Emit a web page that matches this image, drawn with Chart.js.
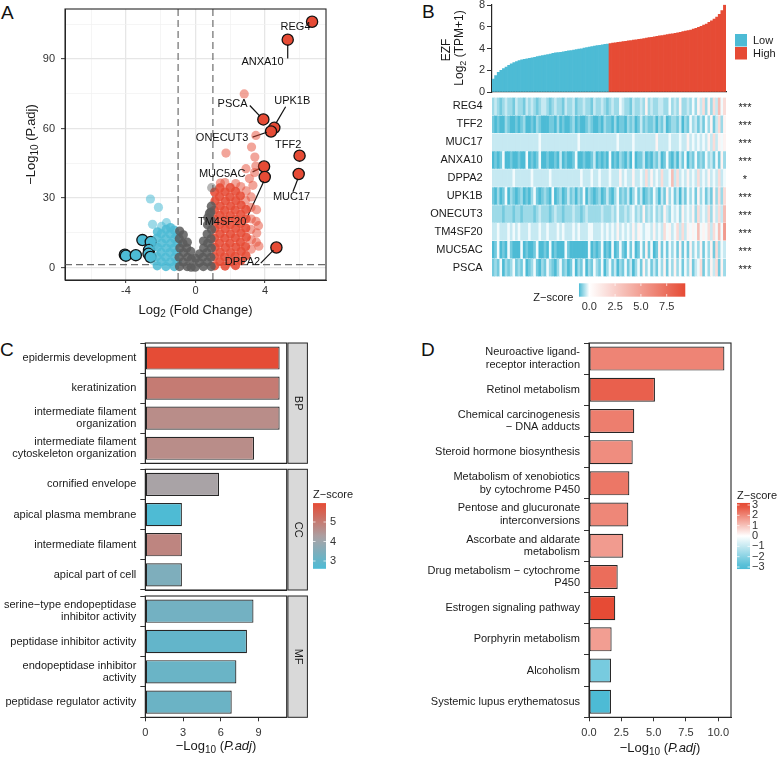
<!DOCTYPE html>
<html>
<head>
<meta charset="utf-8">
<title>EZF expression panels</title>
<script src="https://cdn.jsdelivr.net/npm/chart.js@4.4.1/dist/chart.umd.min.js"></script>
<style>
  html, body { margin: 0; padding: 0; background: #fff; }
  body { position: relative; width: 778px; height: 757px; overflow: hidden; font-family: 'Liberation Sans', Arial, Helvetica, sans-serif; }
  canvas { position: absolute; }
  .tag { position: absolute; font-size: 19px; line-height: 19px; color: #111; }
</style>
</head>
<body>
<div class="tag" style="left:1px;top:3px">A</div>
<div class="tag" style="left:422px;top:2px">B</div>
<div class="tag" style="left:0px;top:340px">C</div>
<div class="tag" style="left:421px;top:340px">D</div>
<script>
// ---------- A: volcano ----------
const fcCut = 1;
const padjCut = 1.3;
// dense clouds (thousands of genes in the original, drawn as a compact cloud)
const flatGenes = [
  [-0.92,0.5],[-0.94,4.5],[-0.9,8.5],[-0.93,12.5],[-0.91,15.8],
  [-0.7,2.5],[-0.68,6.5],[-0.72,10.5],[-0.7,14.2],
  [-0.48,0.5],[-0.46,4.5],[-0.5,8.5],[-0.47,11],
  [-0.25,0.2],[-0.24,3.8],[-0.27,7],
  [-0.02,0.2],[0.01,4],
  [0.22,2.2],[0.24,6],
  [0.45,0.5],[0.43,4.5],[0.47,8.5],[0.46,11.5],
  [0.68,2.5],[0.66,6.5],[0.7,10.5],[0.67,14.5],[0.69,18.5],[0.71,21.5],
  [0.9,0.5],[0.88,4.5],[0.91,8.5],[0.89,12.5],[0.92,16.5],[0.9,20.5],[0.88,24],[0.91,26.5],
  [0.8,23.5]
];
const flatSparse = [[0.93,34.5]];
const downGenes = [
  [-2.2,0.8],[-2.22,4.8],[-2.18,8.8],[-2.21,12.8],[-2.19,15.5],
  [-1.95,2.6],[-1.97,6.6],[-1.93,10.6],[-1.96,14.6],
  [-1.7,0.5],[-1.72,4.5],[-1.68,8.5],[-1.71,12.5],[-1.69,16.5],
  [-1.45,2.5],[-1.47,6.5],[-1.43,10.5],[-1.46,14.5],[-1.44,17.3],
  [-1.22,0.5],[-1.2,4.5],[-1.24,8.5],[-1.21,12.5],[-1.23,16.2],
  [-1.05,2.5],[-1.07,6.5],[-1.04,10.5],[-1.06,14]
];
const downSparse = [[-2.59,29.6],[-2.13,26],[-2.47,18.7],[-1.67,19.4],[-2.4,3],[-2.36,9.5],[-1.95,17.8]];
const upGenes = [
  [1.1,0.8],[1.08,4.8],[1.12,8.8],[1.09,12.8],[1.11,16.8],[1.1,20.8],[1.08,24.8],[1.12,28.8],[1.1,32.6],
  [1.4,2.6],[1.42,6.6],[1.38,10.6],[1.41,14.6],[1.39,18.6],[1.4,22.6],[1.42,26.6],[1.38,30.6],[1.4,34.4],
  [1.7,0.7],[1.68,4.7],[1.72,8.7],[1.69,12.7],[1.71,16.7],[1.7,20.7],[1.68,24.7],[1.72,28.7],[1.7,32.7],
  [2.0,2.5],[2.02,6.5],[1.98,10.5],[2.01,14.5],[1.99,18.5],[2.0,22.5],[2.02,26.5],[1.98,30.5],[2.0,34.5],
  [2.3,0.9],[2.28,4.9],[2.32,8.9],[2.29,12.9],[2.31,16.9],[2.3,20.9],[2.28,24.9],[2.32,28.9],[2.3,32.9],
  [2.6,3],[2.62,7],[2.58,11],[2.61,15],[2.59,19],[2.6,23],[2.62,27],[2.58,31],
  [2.9,5.2],[2.88,9.1],[2.92,13.1],[2.89,17.1],[2.91,21.1],[2.9,25.1]
];
const upSparse = [
  [1.43,36.5],[1.69,36.7],[2.31,36.3],[2.6,35],[2.88,29.1],[2.92,33.1],
  [3.2,8],[3.22,12],[3.18,16.5],[3.21,21],[3.19,26],[3.2,30.5],
  [3.5,11],[3.52,15],[3.48,20],[3.51,25],
  [1.75,49.4],[2.9,42.7],[3.22,52],[3.41,47.7],[3.47,43.8],[3.4,41],[3.47,57],[3.3,35.5],
  [3.1,38.4],[3.62,18.1],[3.64,9.3],[2.8,74.9]
];
const downMarked = [[-4.06,5.6],[-4.0,5.2],[-3.43,5.4],[-3.05,11.9],[-2.57,11.1],[-2.67,7.6],[-2.7,6.0],[-2.59,4.6]];
const upMarkedNames = ['REG4','ANXA10','PSCA','UPK1B','ONECUT3','TFF2','MUC5AC','MUC17','TM4SF20','DPPA2'];
const upMarked = [[6.7,106],[5.3,98.3],[3.9,63.9],[4.53,60.3],[4.34,58.7],[5.98,48.3],[3.94,43.6],[5.93,40.4],[3.98,39.1],[4.65,8.7]];
const upLabelPos = [[5.75,103.8],[3.85,88.8],[2.13,70.6],[5.56,72],[1.53,56],[5.33,52.7],[1.53,40.6],[5.52,30.6],[1.53,19.6],[2.7,2.3]];
const upLabelLines = [null,[5.3,96,5.3,90.2],[3.12,69.9,3.7,65.3],[5.18,69.4,4.62,62.2],[3.28,56.3,4.1,58.4],null,
  [3.28,41.3,3.7,42.8],[5.6,32.7,5.88,38.2],[2.9,20.6,3.92,37.2],[3.75,2.0,4.48,7.6]];

// ---------- B: EZF expression + heatmap ----------
const ezfExpr = [1.2,1.5,1.8,2.0,2.15,2.3,2.45,2.6,2.7,2.8,
  2.9,2.95,3.0,3.05,3.1,3.15,3.2,3.25,3.3,3.35,
  3.4,3.45,3.5,3.55,3.6,3.62,3.66,3.7,3.74,3.78,
  3.82,3.86,3.9,3.94,3.98,4.03,4.08,4.13,4.18,4.22,
  4.26,4.3,4.34,4.38,4.41,4.45,4.5,4.53,4.56,4.6,
  4.63,4.66,4.7,4.73,4.77,4.8,4.84,4.88,4.92,4.96,
  5.0,5.04,5.08,5.12,5.16,5.2,5.24,5.28,5.32,5.36,
  5.4,5.45,5.5,5.55,5.6,5.65,5.7,5.78,5.86,5.95,
  6.05,6.15,6.25,6.4,6.55,6.7,6.9,7.15,7.5,8.0];
const lowCount = 45;
const heatGenes = ['REG4','TFF2','MUC17','ANXA10','DPPA2','UPK1B','ONECUT3','TM4SF20','MUC5AC','PSCA'];
const heatStars = ['***','***','***','***','*','***','***','***','***','***'];
const heatCodes = [
  '2321232213 2213232123 3212322132 2312232213 2232123224 3221322325 2322332242 3252232425 3625263746',
  '1010021001 0120010210 0011020100 1201001210 0102110201 1021201312 1120213012 2130214231 3142513625',
  '3333333333 3333333343 3333333333 3334333333 3333333343 3333433333 3335333343 3343353434 3435363545',
  '0101400100 1004010140 0100103010 0140010013 0101040102 1020401130 1021301410 2031402141 2142314152',
  '3333333343 3333343333 3343333333 3333433343 3433343335 3433533436 3534363347 3634353436 3435343634',
  '1020140210 1201024101 2104012013 1202140210 1201310241 2130241301 2142031524 1303142415 2413152626',
  '2222122212 2122221232 2212322122 2322123222 2232223242 2323423252 3242325324 3425343526 3436253637',
  '3343334343 4333433343 3433343433 3434333443 3343434353 4343535434 4353436453 4636354547 4546364748',
  '0140104100 0401001400 1040100041 0000000401 0140104014 1041401415 1401514142 4151415242 5142516243',
  '1214021241 2140124102 1421024120 1402140214 2140241302 1413024152 4131425142 5241425134 6142536152'
].map(s => s.replace(/ /g, ''));
const codeZ = [-1, -0.78, -0.55, -0.32, -0.08, 0.6, 1.8, 3.4, 5.2, 7.8];
const heatTicks = [0, 2.5, 5, 7.5];

// ---------- C: GO ----------
const bpTerms = ['epidermis development', 'keratinization', ['intermediate filament', 'organization'], ['intermediate filament', 'cytoskeleton organization']];
const bpLogP = [10.68, 10.68, 10.68, 8.64];
const bpZ = [5.95, 5.0, 4.65, 4.65];
const ccTerms = ['cornified envelope', 'apical plasma membrane', 'intermediate filament', 'apical part of cell'];
const ccLogP = [5.86, 2.91, 2.91, 2.91];
const ccZ = [4.2, 2.62, 4.8, 3.45];
const mfTerms = [['serine\u2212type endopeptidase', 'inhibitor activity'], 'peptidase inhibitor activity', ['endopeptidase inhibitor', 'activity'], 'peptidase regulator activity'];
const mfLogP = [8.6, 8.08, 7.24, 6.87];
const mfZ = [3.26, 2.98, 3.1, 3.13];
const goTicks = [0, 3, 6, 9];
const goZTicks = [5, 4, 3];

// ---------- D: KEGG ----------
const keggTerms = [['Neuroactive ligand-', 'receptor interaction'], 'Retinol metabolism', ['Chemical carcinogenesis', '\u2212 DNA adducts'],
  'Steroid hormone biosynthesis', ['Metabolism of xenobiotics', 'by cytochrome P450'], ['Pentose and glucuronate', 'interconversions'],
  ['Ascorbate and aldarate', 'metabolism'], ['Drug metabolism \u2212 cytochrome', 'P450'], 'Estrogen signaling pathway',
  'Porphyrin metabolism', 'Alcoholism', 'Systemic lupus erythematosus'];
const keggLogP = [10.47, 5.1, 3.5, 3.38, 3.12, 3.04, 2.65, 2.22, 2.03, 1.75, 1.7, 1.7];
const keggZ = [2.05, 2.65, 2.15, 1.9, 2.27, 2.0, 1.67, 2.43, 3.0, 1.62, -2.3, -3.0];
const keggTicks = [0, 2.5, 5, 7.5, 10];
const keggZTicks = [3, 2, 1, 0, -1, -2, -3];

// ---------- helpers ----------
const FAM = "'Liberation Sans', Arial, Helvetica, sans-serif";
Chart.defaults.font.family = FAM;
Chart.defaults.font.size = 11;
Chart.defaults.color = '#1a1a1a';
Chart.defaults.animation = false;
Chart.defaults.responsive = false;
Chart.defaults.plugins.legend.display = false;
Chart.defaults.plugins.tooltip.enabled = false;

const BLUE = '#4DBBD5', RED = '#E64B35', WHITE = '#FFFFFF', MIDGREY = '#A9A3A6';
function hex2rgb(h) { return [1, 3, 5].map(i => parseInt(h.slice(i, i + 2), 16)); }
function mix(a, b, t) {
  t = Math.max(0, Math.min(1, t));
  const A = hex2rgb(a), B = hex2rgb(b);
  return 'rgb(' + A.map((v, i) => Math.round(v + (B[i] - v) * t)).join(',') + ')';
}
function colB(z) { return z <= 0 ? mix(BLUE, WHITE, z + 1) : mix(WHITE, RED, z / 9.3); }
function colC(z) { return z <= 4.2 ? mix(BLUE, MIDGREY, (z - 2.6) / 1.6) : mix(MIDGREY, RED, (z - 4.2) / 1.77); }
function colD(z) { return z <= 0 ? mix(BLUE, WHITE, (z + 3) / 3) : mix(WHITE, RED, z / 3); }

function makeCanvas(cv) {
  const c = document.createElement('canvas');
  c.width = cv.w; c.height = cv.h;
  Object.assign(c.style, { left: cv.x + 'px', top: cv.y + 'px', width: cv.w + 'px', height: cv.h + 'px' });
  document.body.appendChild(c);
  return c;
}
function padFor(cv, ar) { return { left: 0, top: ar.t - cv.y, right: cv.x + cv.w - ar.r, bottom: 0 }; }
function fixY(w) { return s => { s.width = w; s.paddingTop = 0; s.paddingBottom = 0; }; }
function fixX(h) { return s => { s.height = h; s.paddingLeft = 0; s.paddingRight = 0; }; }
function setTicks(list) { return s => { s.ticks = list.map(v => ({ value: v })); }; }

// text with subscript / italic pieces, centred on (x, y)
function richText(ctx, parts, x, y, size, rot) {
  ctx.save();
  ctx.translate(x, y);
  if (rot) ctx.rotate(rot);
  const fonts = parts.map(p => (p[1] === 'i' ? 'italic ' : '') + (p[1] === 's' ? Math.round(size * 0.75) : size) + 'px ' + FAM);
  let total = 0;
  const widths = parts.map((p, i) => { ctx.font = fonts[i]; const w = ctx.measureText(p[0]).width; total += w; return w; });
  let cx = -total / 2;
  ctx.textAlign = 'left'; ctx.textBaseline = 'middle'; ctx.fillStyle = '#1a1a1a';
  parts.forEach((p, i) => { ctx.font = fonts[i]; ctx.fillText(p[0], cx, p[1] === 's' ? size * 0.32 : 0); cx += widths[i]; });
  ctx.restore();
}
const padjTitle = [['\u2212Log', ''], ['10', 's'], [' (', ''], ['P.adj', 'i'], [')', '']];

const framePlugin = {
  id: 'frame',
  afterDraw(chart) {
    const a = chart.chartArea, c = chart.ctx;
    c.save(); c.strokeStyle = '#262626'; c.lineWidth = 1.1;
    c.strokeRect(a.left, a.top, a.right - a.left, a.bottom - a.top);
    c.restore();
  }
};

// ---------- A chart ----------
const cvA = { x: 0, y: 0, w: 390, h: 320 }, arA = { l: 65, t: 9, r: 326, b: 280 };
const volcanoDecor = {
  id: 'volcanoDecor',
  beforeDatasetsDraw(chart) {
    const { ctx, chartArea: a, scales: { x, y } } = chart;
    ctx.save(); ctx.strokeStyle = '#6e6e6e'; ctx.lineWidth = 1.2; ctx.setLineDash([7, 4]);
    [-fcCut, fcCut].forEach(v => {
      const px = x.getPixelForValue(v);
      ctx.beginPath(); ctx.moveTo(px, a.top); ctx.lineTo(px, a.bottom); ctx.stroke();
    });
    const py = y.getPixelForValue(padjCut);
    ctx.beginPath(); ctx.moveTo(a.left, py); ctx.lineTo(a.right, py); ctx.stroke();
    ctx.restore();
  },
  beforeDatasetDraw(chart, args) {
    if (args.index !== 6) return;
    const { ctx, scales: { x, y } } = chart;
    ctx.save(); ctx.strokeStyle = '#111'; ctx.lineWidth = 1.2;
    upLabelLines.forEach(s => {
      if (!s) return;
      ctx.beginPath();
      ctx.moveTo(x.getPixelForValue(s[0]), y.getPixelForValue(s[1]));
      ctx.lineTo(x.getPixelForValue(s[2]), y.getPixelForValue(s[3]));
      ctx.stroke();
    });
    ctx.restore();
  },
  afterDatasetsDraw(chart) {
    const { ctx, scales: { x, y } } = chart;
    ctx.save(); ctx.font = '11px ' + FAM; ctx.fillStyle = '#111';
    ctx.textAlign = 'center'; ctx.textBaseline = 'middle';
    upMarkedNames.forEach((n, i) => ctx.fillText(n, x.getPixelForValue(upLabelPos[i][0]), y.getPixelForValue(upLabelPos[i][1])));
    ctx.restore();
  },
  afterDraw(chart) {
    const { ctx, chartArea: a } = chart;
    richText(ctx, [['Log', ''], ['2', 's'], [' (Fold Change)', '']], (a.left + a.right) / 2, 310, 13);
    richText(ctx, [['\u2212Log', ''], ['10', 's'], [' (P.adj)', '']], 31, (a.top + a.bottom) / 2, 13, -Math.PI / 2);
  }
};
const toXY = list => list.map(p => ({ x: p[0], y: p[1] }));
const cloud = (list, color) => ({ data: toXY(list), backgroundColor: color, pointRadius: 4.6, borderWidth: 0 });
new Chart(makeCanvas(cvA), {
  type: 'scatter',
  data: {
    datasets: [
      cloud(flatGenes, 'rgba(92,92,92,0.85)'),
      cloud(flatSparse, 'rgba(92,92,92,0.45)'),
      cloud(downGenes, 'rgba(77,187,213,0.85)'),
      cloud(downSparse, 'rgba(77,187,213,0.55)'),
      cloud(upGenes, 'rgba(230,75,53,0.88)'),
      cloud(upSparse, 'rgba(230,75,53,0.5)'),
      { data: toXY(downMarked), backgroundColor: BLUE, pointRadius: 5.6, borderWidth: 1.3, borderColor: '#111' },
      { data: toXY(upMarked), backgroundColor: RED, pointRadius: 5.6, borderWidth: 1.3, borderColor: '#111' }
    ]
  },
  options: {
    layout: { padding: padFor(cvA, arA) },
    scales: {
      x: {
        type: 'linear', min: -7.5, max: 7.5,
        afterBuildTicks: setTicks([-6, -4, -2, 0, 2, 4, 6]),
        afterFit: fixX(cvA.y + cvA.h - arA.b),
        ticks: { autoSkip: false, maxRotation: 0, padding: 1, color: '#333', callback: v => (v % 4 === 0 ? String(v) : '') },
        grid: {
          color: c => (c.tick && c.tick.value % 4 === 0 ? '#E6E6E6' : '#F1F1F1'),
          lineWidth: c => (c.tick && c.tick.value % 4 === 0 ? 1.3 : 0.7),
          tickColor: c => (c.tick && c.tick.value % 4 === 0 ? '#333' : 'rgba(0,0,0,0)'),
          tickLength: 3, tickWidth: 1
        },
        border: { color: '#262626' }
      },
      y: {
        type: 'linear', min: -5.3, max: 111.5,
        afterBuildTicks: setTicks([0, 15, 30, 45, 60, 75, 90, 105]),
        afterFit: fixY(arA.l - cvA.x),
        ticks: { autoSkip: false, padding: 6, color: '#333', callback: v => (v % 30 === 0 ? String(v) : '') },
        grid: {
          color: c => (c.tick && c.tick.value % 30 === 0 ? '#E6E6E6' : '#F1F1F1'),
          lineWidth: c => (c.tick && c.tick.value % 30 === 0 ? 1.3 : 0.7),
          tickColor: c => (c.tick && c.tick.value % 30 === 0 ? '#333' : 'rgba(0,0,0,0)'),
          tickLength: 4, tickWidth: 1
        },
        border: { color: '#262626' }
      }
    }
  },
  plugins: [volcanoDecor, framePlugin]
});

// ---------- B: top bar ----------
const cvB1 = { x: 390, y: 0, w: 388, h: 95 }, arB1 = { l: 492, t: 4.5, r: 726, b: 92 };
const sampleIdx = ezfExpr.map((_, i) => i + 1);
const ezfDecor = {
  id: 'ezfDecor',
  afterDraw(chart) {
    const ctx = chart.ctx;
    richText(ctx, [['EZF', '']], 57, 50, 12, -Math.PI / 2);
    richText(ctx, [['Log', ''], ['2', 's'], [' (TPM+1)', '']], 70, 48, 12, -Math.PI / 2);
    ctx.save();
    ctx.fillStyle = BLUE; ctx.fillRect(345, 34, 12, 12.5);
    ctx.fillStyle = RED; ctx.fillRect(345, 47, 12, 12.5);
    ctx.fillStyle = '#1a1a1a'; ctx.font = '11px ' + FAM; ctx.textBaseline = 'middle'; ctx.textAlign = 'left';
    ctx.fillText('Low', 363, 40.5); ctx.fillText('High', 363, 53.5);
    ctx.restore();
  }
};
new Chart(makeCanvas(cvB1), {
  type: 'bar',
  data: {
    labels: sampleIdx,
    datasets: [{
      data: ezfExpr,
      backgroundColor: ezfExpr.map((_, i) => (i < lowCount ? BLUE : RED)),
      borderWidth: 0, barPercentage: 1, categoryPercentage: 1
    }]
  },
  options: {
    layout: { padding: padFor(cvB1, arB1) },
    scales: {
      x: {
        afterFit: fixX(cvB1.y + cvB1.h - arB1.b),
        ticks: { display: false }, grid: { display: false },
        border: { display: true, color: '#262626', width: 1.2 }
      },
      y: {
        min: 0, max: 8.05,
        afterBuildTicks: setTicks([0, 2, 4, 6, 8]),
        afterFit: fixY(arB1.l - cvB1.x),
        ticks: { padding: 2, color: '#333', autoSkip: false },
        grid: { drawOnChartArea: false, tickLength: 5, color: '#333' },
        border: { color: '#262626', width: 1.2 }
      }
    }
  },
  plugins: [ezfDecor]
});

// ---------- B: heatmap ----------
const cvB2 = { x: 390, y: 95, w: 388, h: 220 }, arB2 = { l: 492, t: 97.3, r: 726, b: 276.7 };
const heatDecor = {
  id: 'heatDecor',
  afterDraw(chart) {
    const { ctx, scales: { y } } = chart;
    ctx.save();
    ctx.font = '11px ' + FAM; ctx.fillStyle = '#1a1a1a'; ctx.textBaseline = 'middle';
    heatGenes.forEach((g, i) => {
      const py = y.getPixelForValue(i + 0.5);
      ctx.textAlign = 'right'; ctx.fillText(g, arB2.l - cvB2.x - 9.3, py);
      ctx.textAlign = 'center'; ctx.fillText(heatStars[i], 355, py + 2);
    });
    // colour key
    const zx = z => 199.3 + 10.32 * z;
    const grad = ctx.createLinearGradient(zx(-1), 0, zx(9.3), 0);
    [-1, -0.5, 0, 1, 2, 3, 4, 5, 6, 7, 8, 9.3].forEach(z => grad.addColorStop((z + 1) / 10.3, colB(z)));
    ctx.fillStyle = grad;
    ctx.fillRect(zx(-1), 188.3, zx(9.3) - zx(-1), 13.4);
    ctx.strokeStyle = 'rgba(255,255,255,0.9)'; ctx.lineWidth = 0.8;
    heatTicks.forEach(v => {
      const px = zx(v);
      ctx.beginPath(); ctx.moveTo(px, 188.3); ctx.lineTo(px, 191); ctx.moveTo(px, 199); ctx.lineTo(px, 201.7); ctx.stroke();
    });
    ctx.fillStyle = '#333'; ctx.textAlign = 'center';
    heatTicks.forEach(v => ctx.fillText(v.toFixed(1), zx(v), 211.5));
    ctx.fillStyle = '#1a1a1a'; ctx.textAlign = 'right';
    ctx.fillText('Z\u2212score', 183.3, 203);
    ctx.restore();
  }
};
new Chart(makeCanvas(cvB2), {
  type: 'bar',
  data: {
    labels: sampleIdx,
    datasets: heatGenes.map((g, i) => ({
      label: g,
      data: heatCodes[i].split('').map(() => [i + 0.03, i + 0.97]),
      backgroundColor: heatCodes[i].split('').map(c => colB(codeZ[+c])),
      grouped: false, barPercentage: 1, categoryPercentage: 1, borderWidth: 0
    }))
  },
  options: {
    layout: { padding: { left: arB2.l - cvB2.x, top: arB2.t - cvB2.y, right: cvB2.x + cvB2.w - arB2.r, bottom: cvB2.y + cvB2.h - arB2.b } },
    scales: {
      x: { display: false },
      y: { display: false, type: 'linear', min: 0, max: heatGenes.length, reverse: true }
    }
  },
  plugins: [heatDecor]
});

// ---------- C: GO facets ----------
const goMax = 11.24;
function stripPlugin(text) {
  return {
    id: 'strip',
    afterDraw(chart) {
      const a = chart.chartArea, c = chart.ctx;
      const x0 = a.right + 1.2, w = 19.5;
      c.save();
      c.fillStyle = '#D9D9D9'; c.fillRect(x0, a.top, w, a.bottom - a.top);
      c.strokeStyle = '#262626'; c.lineWidth = 1; c.strokeRect(x0, a.top, w, a.bottom - a.top);
      c.translate(x0 + w / 2, (a.top + a.bottom) / 2); c.rotate(Math.PI / 2);
      c.fillStyle = '#1a1a1a'; c.font = '11px ' + FAM; c.textAlign = 'center'; c.textBaseline = 'middle';
      c.fillText(text, 0, 0);
      c.restore();
    }
  };
}
function goPanel(cv, ar, terms, logp, z, facet, bottom, extra) {
  new Chart(makeCanvas(cv), {
    type: 'bar',
    data: {
      labels: terms,
      datasets: [{
        data: logp, backgroundColor: z.map(colC), borderColor: '#262626', borderWidth: 1.2,
        borderSkipped: false, barPercentage: 0.77, categoryPercentage: 1
      }]
    },
    options: {
      indexAxis: 'y',
      layout: { padding: padFor(cv, ar) },
      scales: {
        x: {
          type: 'linear', min: 0, max: goMax,
          afterBuildTicks: setTicks(goTicks),
          afterFit: fixX(cv.y + cv.h - ar.b),
          ticks: { display: bottom, padding: 5, color: '#333', autoSkip: false, maxRotation: 0 },
          grid: { drawOnChartArea: false, drawTicks: bottom, tickLength: 4, color: '#333' },
          border: { color: '#262626' }
        },
        y: {
          afterFit: fixY(ar.l - cv.x),
          ticks: { padding: 4, autoSkip: false, color: '#1a1a1a', font: { lineHeight: 1.12 } },
          grid: { drawOnChartArea: false, tickLength: 5, color: '#333' },
          border: { color: '#262626' }
        }
      }
    },
    plugins: [framePlugin, stripPlugin(facet)].concat(extra || [])
  });
}
const cvBP = { x: 0, y: 340, w: 390, h: 126 }, arBP = { l: 145.3, t: 343, r: 286.7, b: 463.3 };
const cvCC = { x: 0, y: 466, w: 390, h: 127 }, arCC = { l: 145.3, t: 469.3, r: 286.7, b: 590 };
const cvMF = { x: 0, y: 593, w: 390, h: 164 }, arMF = { l: 145.3, t: 596, r: 286.7, b: 717.3 };
const goLegend = {
  id: 'goLegend',
  afterDraw(chart) {
    const ctx = chart.ctx;
    const yz = v => 56 - (v - 5) * 19.5;
    const grad = ctx.createLinearGradient(0, yz(5.97), 0, yz(2.6));
    for (let k = 0; k <= 16; k++) {
      const v = 5.97 - k * (5.97 - 2.6) / 16;
      grad.addColorStop(k / 16, colC(v));
    }
    ctx.save();
    ctx.fillStyle = grad; ctx.fillRect(313, yz(5.97), 13, yz(2.6) - yz(5.97));
    ctx.strokeStyle = 'rgba(255,255,255,0.9)'; ctx.lineWidth = 0.8;
    goZTicks.forEach(v => {
      const py = yz(v);
      ctx.beginPath(); ctx.moveTo(313, py); ctx.lineTo(315.5, py); ctx.moveTo(323.5, py); ctx.lineTo(326, py); ctx.stroke();
    });
    ctx.font = '11px ' + FAM; ctx.textBaseline = 'middle';
    ctx.fillStyle = '#333'; ctx.textAlign = 'left';
    goZTicks.forEach(v => ctx.fillText(String(v), 330, yz(v)));
    ctx.fillStyle = '#1a1a1a';
    ctx.fillText('Z\u2212score', 313, 29);
    ctx.restore();
  }
};
const goTitle = {
  id: 'goTitle',
  afterDraw(chart) {
    const a = chart.chartArea;
    richText(chart.ctx, padjTitle, (a.left + a.right) / 2, 746 - cvMF.y, 13);
  }
};
goPanel(cvBP, arBP, bpTerms, bpLogP, bpZ, 'BP', false);
goPanel(cvCC, arCC, ccTerms, ccLogP, ccZ, 'CC', false, [goLegend]);
goPanel(cvMF, arMF, mfTerms, mfLogP, mfZ, 'MF', true, [goTitle]);

// ---------- D: KEGG ----------
const cvD = { x: 390, y: 340, w: 388, h: 417 }, arD = { l: 589, t: 343, r: 731, b: 717.3 };
const keggDecor = {
  id: 'keggDecor',
  afterDraw(chart) {
    const { ctx, chartArea: a } = chart;
    richText(ctx, padjTitle, (a.left + a.right) / 2, 748 - cvD.y, 13);
    const yz = v => 196 - v * 10.33;
    const grad = ctx.createLinearGradient(0, yz(3.2), 0, yz(-3.2));
    for (let k = 0; k <= 16; k++) {
      const v = 3.2 - k * 6.4 / 16;
      grad.addColorStop(k / 16, colD(v));
    }
    ctx.save();
    ctx.fillStyle = grad; ctx.fillRect(347, yz(3.2), 13, yz(-3.2) - yz(3.2));
    ctx.strokeStyle = 'rgba(255,255,255,0.9)'; ctx.lineWidth = 0.8;
    keggZTicks.forEach(v => {
      const py = yz(v);
      ctx.beginPath(); ctx.moveTo(347, py); ctx.lineTo(349.5, py); ctx.moveTo(357.5, py); ctx.lineTo(360, py); ctx.stroke();
    });
    ctx.font = '11px ' + FAM; ctx.textBaseline = 'middle';
    ctx.fillStyle = '#333'; ctx.textAlign = 'left';
    keggZTicks.forEach(v => ctx.fillText(v < 0 ? '\u2212' + Math.abs(v) : String(v), 362, yz(v)));
    ctx.fillStyle = '#1a1a1a';
    ctx.fillText('Z\u2212score', 347, 156);
    ctx.restore();
  }
};
new Chart(makeCanvas(cvD), {
  type: 'bar',
  data: {
    labels: keggTerms,
    datasets: [{
      data: keggLogP, backgroundColor: keggZ.map(colD), borderColor: '#262626', borderWidth: 1.2,
      borderSkipped: false, barPercentage: 0.77, categoryPercentage: 1
    }]
  },
  options: {
    indexAxis: 'y',
    layout: { padding: padFor(cvD, arD) },
    scales: {
      x: {
        type: 'linear', min: 0, max: 10.98,
        afterBuildTicks: setTicks(keggTicks),
        afterFit: fixX(cvD.y + cvD.h - arD.b),
        ticks: { padding: 5, color: '#333', autoSkip: false, maxRotation: 0, callback: v => v.toFixed(1) },
        grid: { drawOnChartArea: false, tickLength: 4, color: '#333' },
        border: { color: '#262626' }
      },
      y: {
        afterFit: fixY(arD.l - cvD.x),
        ticks: { padding: 4, autoSkip: false, color: '#1a1a1a', font: { lineHeight: 1.12 } },
        grid: { drawOnChartArea: false, tickLength: 5, color: '#333' },
        border: { color: '#262626' }
      }
    }
  },
  plugins: [framePlugin, keggDecor]
});
</script>
</body>
</html>
